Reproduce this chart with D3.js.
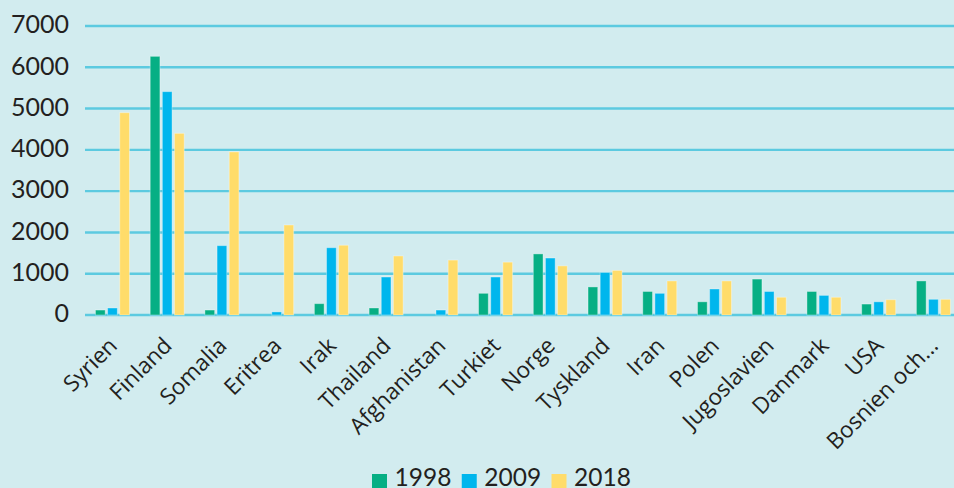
<!DOCTYPE html>
<html>
<head>
<meta charset="utf-8">
<script src="https://cdn.jsdelivr.net/npm/d3@7"></script>
<style>
  html, body { margin: 0; padding: 0; background: #d2ecef; }
  svg { display: block; }
</style>
</head>
<body>
<svg id="chart" width="954" height="488"></svg>
<script>
const categories = ["Syrien","Finland","Somalia","Eritrea","Irak","Thailand","Afghanistan","Turkiet","Norge","Tyskland","Iran","Polen","Jugoslavien","Danmark","USA","Bosnien och..."];
const seriesNames = ["1998","2009","2018"];
const values1998 = [120, 6265, 120, 0, 275, 170, 0, 525, 1480, 680, 570, 320, 870, 570, 265, 825];
const values2009 = [170, 5410, 1680, 75, 1630, 920, 120, 920, 1380, 1030, 525, 630, 570, 475, 320, 380];
const values2018 = [4900, 4400, 3950, 2180, 1690, 1430, 1330, 1280, 1190, 1080, 825, 825, 430, 430, 370, 380];
const yTicks = [0, 1000, 2000, 3000, 4000, 5000, 6000, 7000];
const colors = ["#06af84", "#00b6ed", "#ffdc6a"];

const seriesValues = [values1998, values2009, values2018];

const svg = d3.select("#chart");
const W = 954, H = 488;
svg.append("rect").attr("width", W).attr("height", H).attr("fill", "#d2ecef");

const left = 85.1, step = 54.73;
const x = d3.scaleBand().domain(categories).range([left, left + step * categories.length]).padding(0);
const y = d3.scaleLinear().domain([0, 7000]).range([315, 26]);
const groupW = 34;
const xSub = d3.scaleBand().domain(seriesNames).range([0, groupW]).paddingInner(0.2);

// grid lines
svg.append("g").selectAll("line").data(yTicks).join("line")
  .attr("x1", 85).attr("x2", W)
  .attr("y1", d => y(d)).attr("y2", d => y(d))
  .attr("stroke", "#5ccae0").attr("stroke-width", 2.4);

// y axis labels
const yAxis = d3.axisLeft(y).tickValues(yTicks).tickSize(0).tickPadding(0).tickFormat(d3.format("d"));
const yg = svg.append("g").attr("transform", "translate(69,0)").call(yAxis);
yg.select(".domain").remove();
yg.selectAll("text")
  .attr("font-family", "Lato, sans-serif")
  .attr("font-size", 25)
  .attr("fill", "#231f20")
  .attr("dy", "0.27em");

// bars
const groups = svg.append("g").selectAll("g").data(categories).join("g")
  .attr("transform", d => `translate(${x(d) + (x.bandwidth() - groupW) / 2},0)`);
groups.selectAll("rect")
  .data((c, i) => seriesNames.map((s, k) => ({ s, k, v: seriesValues[k][i] })))
  .join("rect")
  .filter(d => d.v > 0)
  .attr("x", d => xSub(d.s))
  .attr("width", xSub.bandwidth())
  .attr("y", d => y(d.v))
  .attr("height", d => y(0) - y(d.v))
  .attr("fill", d => colors[d.k])
  .attr("stroke", "rgba(255,255,255,0.35)")
  .attr("stroke-width", 1);

// x labels
const xAxis = d3.axisBottom(x).tickSize(0).tickPadding(0);
const xg = svg.append("g").attr("transform", "translate(-5,336)").call(xAxis);
xg.select(".domain").remove();
xg.selectAll(".tick text")
  .attr("font-family", "'Open Sans', sans-serif")
  .attr("font-size", 22.5)
  .attr("fill", "#231f20")
  .attr("text-anchor", "end")
  .attr("x", 0).attr("y", 0).attr("dy", "0.7em").attr("dx", "0")
  .attr("transform", "rotate(-45)");

// legend
const legend = svg.append("g").attr("transform", "translate(372,474)");
const legX = d3.scalePoint().domain(seriesNames).range([0, 179.5]);
const li = legend.selectAll("g").data(seriesNames).join("g")
  .attr("transform", d => `translate(${legX(d)},0)`);
li.append("rect").attr("width", 15).attr("height", 15).attr("fill", (d, i) => colors[i]);
li.append("text").attr("x", 22.5).attr("y", 12)
  .attr("font-family", "Lato, sans-serif")
  .attr("font-size", 24.5).attr("fill", "#231f20")
  .text(d => d);
</script>
</body>
</html>
